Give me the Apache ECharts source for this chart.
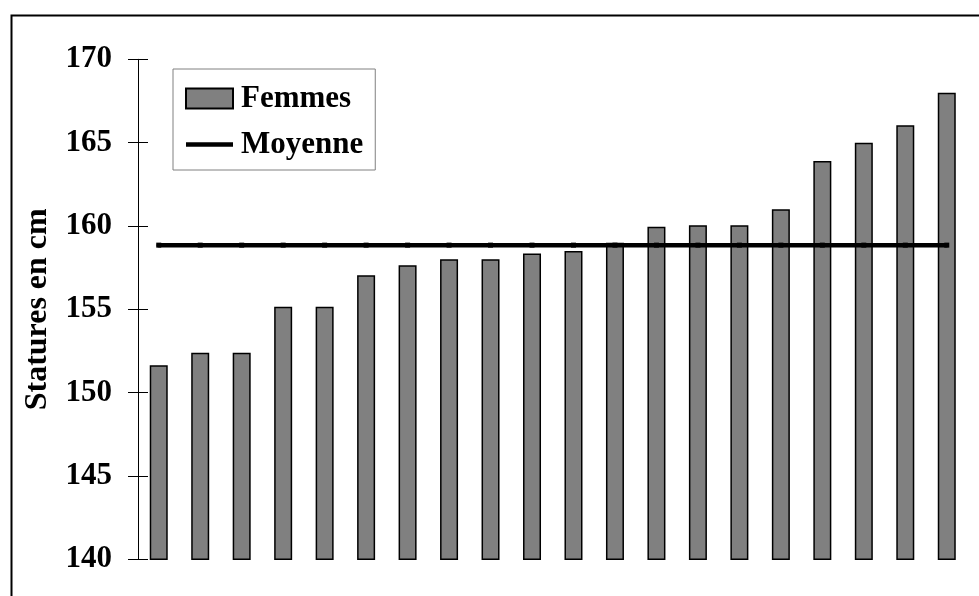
<!DOCTYPE html>
<html>
<head>
<meta charset="utf-8">
<style>html,body{margin:0;padding:0;background:#fff;}#c{width:979px;height:596px;}</style>
<script src="https://cdn.jsdelivr.net/npm/echarts@6/dist/echarts.min.js"></script>
</head>
<body>
<div id="c"></div>
<script>
var categories = ['1','2','3','4','5','6','7','8','9','10','11','12','13','14','15','16','17','18','19','20'];
var femmes = [151.65, 152.4, 152.4, 155.15, 155.15, 157.05, 157.65, 158.0, 158.0, 158.35, 158.5, 159.0, 159.95, 160.05, 160.05, 161.0, 163.9, 165.0, 166.05, 168.0];
var moyenne = [158.85, 158.85, 158.85, 158.85, 158.85, 158.85, 158.85, 158.85, 158.85, 158.85, 158.85, 158.85, 158.85, 158.85, 158.85, 158.85, 158.85, 158.85, 158.85, 158.85];
var yTicks = [140, 145, 150, 155, 160, 165, 170];

var font = '"Liberation Serif", "Times New Roman", serif';
var fs = 31;
var chart = echarts.init(document.getElementById('c'), null, {renderer: 'canvas'});
chart.setOption({
  animation: false,
  backgroundColor: '#fff',
  graphic: [{
    type: 'rect', left: 9, top: 13, z: 100,
    shape: {x: 0, y: 0, width: 1000, height: 1000},
    style: {fill: 'none', stroke: '#000', lineWidth: 2}
  }],
  grid: {left: 138, right: 11.5, top: 59.3, bottom: 36.7, containLabel: false},
  legend: {
    orient: 'vertical',
    left: 173, top: 69,
    padding: [14, 12, 10, 12],
    itemGap: 15,
    itemWidth: 47, itemHeight: 20,
    backgroundColor: '#fff',
    borderColor: '#808080', borderWidth: 1,
    textStyle: {fontFamily: font, fontWeight: 'bold', fontSize: fs, color: '#000', padding: [0, 0, 0, 3]},
    data: [
      {name: 'Femmes', icon: 'rect'},
      {name: 'Moyenne', icon: 'path://M0,0L47,0L47,4.5L0,4.5Z', itemStyle: {color: '#000', borderWidth: 0}}
    ]
  },
  xAxis: {
    type: 'category', data: categories,
    axisLine: {show: false}, axisTick: {show: false}, axisLabel: {show: false}
  },
  yAxis: [{
    type: 'value', min: yTicks[0], max: yTicks[yTicks.length - 1], interval: 5,
    name: 'Statures en cm', nameLocation: 'middle', nameGap: 84, nameRotate: 90,
    nameTextStyle: {fontFamily: font, fontWeight: 'bold', fontSize: fs + 1, color: '#000'},
    axisLine: {show: true, lineStyle: {color: '#000', width: 1}},
    axisTick: {show: true, length: 10, inside: false, lineStyle: {color: '#000', width: 1}},
    axisLabel: {margin: 26, fontFamily: font, fontWeight: 'bold', fontSize: fs, color: '#000'},
    splitLine: {show: false}
  }, {
    type: 'value', min: yTicks[0], max: yTicks[yTicks.length - 1], interval: 5, position: 'left',
    axisLine: {show: false},
    axisTick: {show: true, length: 10, inside: true, lineStyle: {color: '#000', width: 1}},
    axisLabel: {show: false}, splitLine: {show: false}
  }],
  series: [{
    name: 'Femmes', type: 'bar', data: femmes, barWidth: 18, yAxisIndex: 0,
    itemStyle: {color: '#808080', borderColor: '#000', borderWidth: 1.5}
  }, {
    name: 'Moyenne', type: 'line', data: moyenne, yAxisIndex: 0,
    symbol: 'rect', symbolSize: 5, showSymbol: true,
    itemStyle: {color: '#000'},
    lineStyle: {color: '#000', width: 4.5, cap: 'round'}
  }]
});
</script>
</body>
</html>
